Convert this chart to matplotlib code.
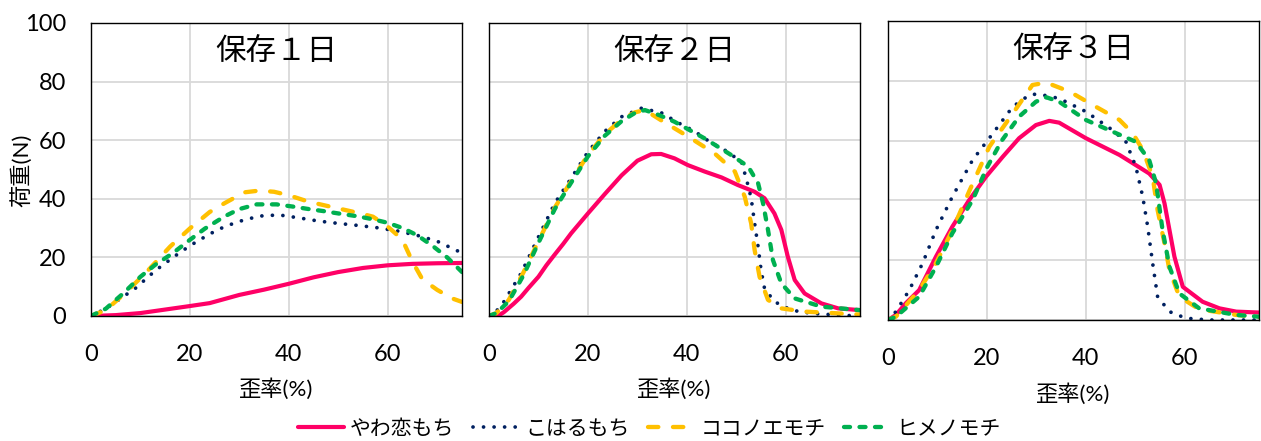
import numpy as np
import matplotlib.pyplot as plt

plt.rcParams['font.family'] = ['Lato', 'Noto Sans CJK JP', 'DejaVu Sans']

# data (strain %, load N)
names = ['やわ恋もち', 'こはるもち', 'ココノエモチ', 'ヒメノモチ']
titles = ['保存１日', '保存２日', '保存３日']

# day 1
yawa1_x = [0, 5, 10, 15, 20, 24, 30, 35, 40, 45, 50, 55, 60, 65, 70, 75]
yawa1_y = [0, 0.3, 1.0, 2.2, 3.4, 4.4, 7.2, 9.0, 11.0, 13.2, 15.0, 16.4, 17.3, 17.8, 18.0, 18.1]
koha1_x = [0, 3, 6, 9, 13, 17, 20, 24, 27, 30, 34, 38, 42, 46, 50, 54, 58, 62, 66, 70, 75]
koha1_y = [0, 2.5, 6, 9.5, 15.5, 20.5, 24, 28, 30.5, 32.3, 34.1, 34.5, 33.5, 32.4, 31.6, 30.9, 30.1, 29.0, 27.5, 25.5, 21.5]
koko1_x = [0, 3, 7, 11, 16, 20, 24, 27, 31, 34, 37, 40, 44, 50, 54, 57, 60, 62, 63.5, 65, 67, 70, 73, 75]
koko1_y = [0, 2, 8, 14.6, 23.7, 29.9, 35.5, 38.5, 42.2, 42.8, 42.4, 41.2, 39.0, 36.7, 35.2, 33.9, 30.5, 27.5, 24.0, 18.5, 12.5, 8.9, 6.0, 4.8]
hime1_x = [0, 3, 6.5, 10, 13, 16.5, 20, 23, 27, 30, 33.5, 37.5, 41, 44, 47, 50, 54, 57, 60, 63, 66, 69, 72, 75]
hime1_y = [0, 2.5, 7.7, 13.4, 17.5, 21.4, 26, 29.8, 34, 36.5, 38.1, 38.1, 37.3, 36.5, 35.8, 35.0, 34.0, 33.0, 31.8, 30.0, 27.5, 24.0, 20.0, 15.0]

# day 2
yawa2_x = [0, 2, 3, 5, 6.5, 8, 10, 11.6, 13.3, 15, 16.6, 20, 23.4, 26.8, 30, 32.8, 34.8, 37.5, 40.2, 43.6, 47, 50.3, 53.7, 55.7, 57.7, 59.1, 60.4, 61.8, 63.8, 67.2, 70.6, 75]
yawa2_y = [0, 0.2, 1.3, 4.2, 6.6, 9.6, 13.4, 17.3, 21.0, 24.6, 28.2, 35.0, 41.6, 48.0, 53.0, 55.2, 55.3, 53.8, 51.5, 49.3, 47.3, 44.7, 42.4, 40.2, 35, 29.4, 20.3, 12.3, 7.7, 4.3, 2.6, 2.0]
koha2_x = [0, 1, 2.8, 6.5, 10, 13.3, 16.6, 20, 23.4, 26.8, 30.8, 34.8, 38.2, 41.6, 45, 47.6, 51, 52, 53, 53.7, 54.4, 55, 55.7, 57.7, 61.1, 65.2, 70.6, 75]
koha2_y = [0, 0.7, 4.3, 14.6, 27, 38.5, 47, 56, 63, 68, 70.9, 69.4, 66, 63, 59, 56.7, 52.7, 47, 40.2, 31.6, 23.7, 15.7, 9.4, 4.9, 2.0, 0.9, 0.3, 0]
koko2_x = [0, 1.5, 4, 7, 10, 13.3, 16.6, 20, 23.4, 26.8, 29.5, 31.5, 34.8, 40.2, 45.6, 49.7, 51.7, 53, 53.7, 54.7, 56.4, 59.1, 63.8, 70.6, 75]
koko2_y = [0, 1, 5.5, 15, 25.5, 37, 46, 55, 62, 67, 69.5, 70.3, 66.8, 61.3, 55.5, 49.3, 40.7, 31.6, 22.5, 13.4, 5.5, 2.6, 1.5, 0.9, 0.5]
hime2_x = [0, 1.5, 4, 7, 10, 13.3, 16.6, 20, 23.4, 26.8, 29.5, 31.5, 34.5, 37.5, 43.6, 49, 52.4, 54.4, 55.4, 56.4, 57.4, 59.1, 61.8, 67.2, 75]
hime2_y = [0, 1, 5, 14, 25, 36.5, 45.5, 54.5, 61.5, 66.5, 69.3, 70.3, 68.5, 66.3, 60.6, 54.9, 51.0, 45.3, 38.5, 29.4, 19.1, 11.1, 6.0, 3.2, 2.0]

# day 3
yawa3_x = [0, 1.6, 3.6, 6.3, 9.7, 13, 16.4, 19.8, 23.2, 26.5, 29.9, 32.6, 34.6, 40, 43.4, 46.8, 50.1, 52.8, 54.9, 55.9, 56.9, 57.9, 59.6, 63.6, 67, 70.4, 75]
yawa3_y = [0, 1.7, 5.6, 10, 21.2, 31.2, 40.1, 47.9, 54.6, 60.8, 65.2, 66.6, 66, 60.8, 58, 55.2, 51.8, 49, 45.2, 39, 30.1, 21.2, 11.1, 6.1, 3.9, 2.8, 2.5]
koha3_x = [0, 1.6, 4.3, 7, 9.7, 13, 17.1, 21.2, 25.2, 28.6, 30.3, 34.6, 40, 45.4, 48.1, 50.1, 51.5, 52.5, 53.5, 54.5, 56.9, 60.2, 65, 75]
koha3_y = [0, 2.8, 10, 19, 30.1, 41.2, 53.5, 62.4, 71.3, 75.3, 75.6, 74.1, 69.7, 63.5, 59.6, 51.3, 41.2, 31.2, 19, 7.8, 2.8, 0.6, 0, 0]
koko3_x = [0, 1.6, 6.3, 9.7, 13, 16.4, 20.5, 25.2, 29.2, 32, 36.7, 41.4, 46.8, 49.5, 51.5, 53.5, 54.5, 55.9, 56.9, 58.9, 62.9, 70.4, 75]
koko3_y = [0, 1.1, 10, 19, 30, 43, 58, 69, 78.6, 79.4, 76.4, 71.9, 66.9, 62.4, 56.9, 47.9, 36.8, 25.6, 16.7, 7.8, 3.6, 1.7, 1.0]
hime3_x = [0, 1.6, 6.3, 9.7, 13, 17.1, 20, 23, 26.5, 29.9, 32, 34.6, 40, 45.4, 50.1, 52.8, 54.2, 55.5, 56.9, 58.9, 62.9, 70.4, 75]
hime3_y = [0, 1.1, 7.8, 17.8, 29, 40.1, 51, 60, 68, 73, 74.5, 73, 66.9, 63, 59.6, 53.5, 45.7, 30.1, 17.8, 8.9, 3.9, 1.7, 1.1]

panels = [
    [(yawa1_x, yawa1_y), (koha1_x, koha1_y), (koko1_x, koko1_y), (hime1_x, hime1_y)],
    [(yawa2_x, yawa2_y), (koha2_x, koha2_y), (koko2_x, koko2_y), (hime2_x, hime2_y)],
    [(yawa3_x, yawa3_y), (koha3_x, koha3_y), (koko3_x, koko3_y), (hime3_x, hime3_y)],
]

styles = [
    dict(color='#FF0066', lw=3.0, ls='-', solid_capstyle='round', solid_joinstyle='round'),
    dict(color='#002060', lw=2.7, ls=(0, (0.01, 2.8)), dash_capstyle='round'),
    dict(color='#FFC000', lw=3.1, ls=(0, (2.4, 3.4)), dash_capstyle='round'),
    dict(color='#00B050', lw=3.1, ls=(0, (1.4, 2.2)), dash_capstyle='round'),
]

fig = plt.figure(figsize=(12.61, 4.41), dpi=100)
rects = [
    [91/1261, 125/441, 371/1261, 293/441],
    [489/1261, 125/441, 371/1261, 293/441],
    [888/1261, 121/441, 371/1261, 299/441],
]

handles = []
for i, rect in enumerate(rects):
    ax = fig.add_axes(rect)
    for j, (xs, ys) in enumerate(panels[i]):
        ln, = ax.plot(xs, ys, label=names[j], **styles[j])
        if i == 0:
            handles.append(ln)
    ax.set_xlim(0, 75)
    ax.set_ylim(0, 100)
    ax.set_xticks([0, 20, 40, 60])
    ax.set_yticks([0, 20, 40, 60, 80, 100])
    ax.grid(True, color='#D9D9D9', lw=1.3)
    ax.set_axisbelow(True)
    for s in ax.spines.values():
        s.set_color('black')
        s.set_linewidth(1.0)
    ax.tick_params(length=0, labelsize=17, pad=20)
    ax.tick_params(axis='y', pad=18)
    if i > 0:
        ax.tick_params(labelleft=False)
    ax.text(0.5, 0.905, titles[i], transform=ax.transAxes, ha='center', va='center', fontsize=22)
    ax.text(0.5, -0.248, '歪率(%)', transform=ax.transAxes, ha='center', va='center', fontsize=16)
    if i == 0:
        ax.text(-0.189, 0.498, '荷重(N)', transform=ax.transAxes, ha='center', va='center',
                fontsize=16, rotation=90)

fig.legend(handles, names, loc='center', bbox_to_anchor=(0.515, 0.028), ncol=4, frameon=False,
           fontsize=15, handlelength=2.2, handletextpad=0.3, columnspacing=0.9)

fig.savefig('out.png', dpi=100)
